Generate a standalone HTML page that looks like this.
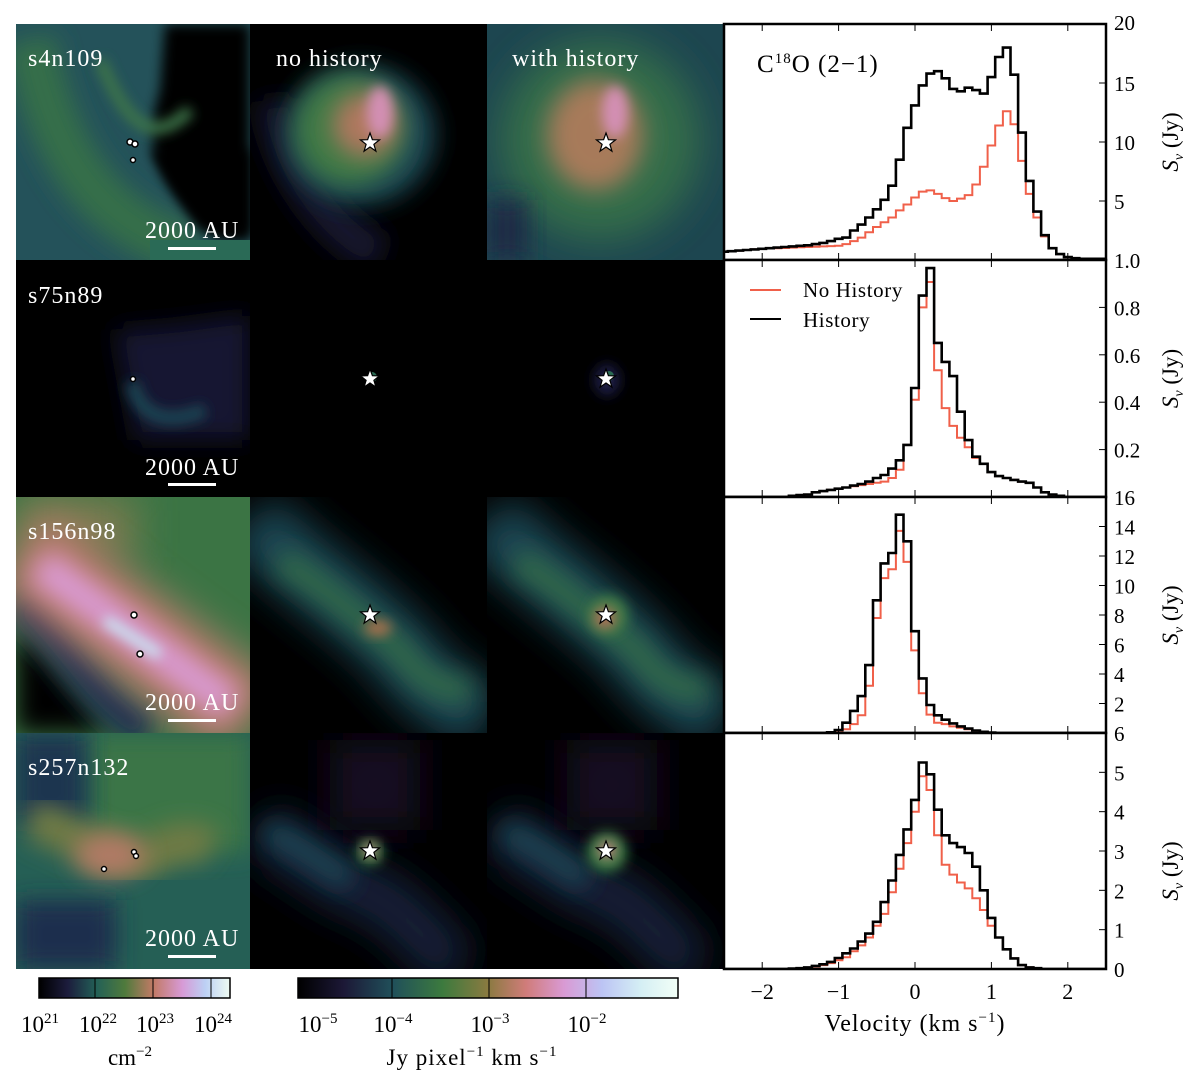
<!DOCTYPE html>
<html><head><meta charset="utf-8"><style>
html,body{margin:0;padding:0;background:#fff;}
svg{display:block;font-family:"Liberation Serif",serif;}
</style></head><body>
<svg id="fig" width="1200" height="1079" viewBox="0 0 1200 1079" xmlns="http://www.w3.org/2000/svg">
<defs>
<filter id="b6" x="-50%" y="-50%" width="200%" height="200%"><feGaussianBlur stdDeviation="6"/></filter>
<filter id="b12" x="-50%" y="-50%" width="200%" height="200%"><feGaussianBlur stdDeviation="12"/></filter>
<filter id="b20" x="-50%" y="-50%" width="200%" height="200%"><feGaussianBlur stdDeviation="20"/></filter>
<linearGradient id="cbL" x1="0" x2="1"><stop offset="0" stop-color="#000"/><stop offset="0.15" stop-color="#1c1c3c"/><stop offset="0.3" stop-color="#236057"/><stop offset="0.45" stop-color="#4f7a3c"/><stop offset="0.6" stop-color="#c27a66"/><stop offset="0.75" stop-color="#d79ad6"/><stop offset="0.87" stop-color="#bcd0f4"/><stop offset="1" stop-color="#eefbf2"/></linearGradient>
<linearGradient id="cbR" x1="0" x2="1"><stop offset="0" stop-color="#000"/><stop offset="0.12" stop-color="#1c1836"/><stop offset="0.25" stop-color="#20505a"/><stop offset="0.38" stop-color="#3c7a3e"/><stop offset="0.5" stop-color="#8a7a40"/><stop offset="0.6" stop-color="#d07c7a"/><stop offset="0.7" stop-color="#d99ad4"/><stop offset="0.8" stop-color="#bcc4f4"/><stop offset="0.9" stop-color="#d4eef4"/><stop offset="1" stop-color="#f2fff6"/></linearGradient>
<clipPath id="c11"><rect x="16" y="24" width="234" height="236"/></clipPath>
<clipPath id="c12"><rect x="250" y="24" width="237" height="236"/></clipPath>
<clipPath id="c13"><rect x="487" y="24" width="237" height="236"/></clipPath>
<clipPath id="c21"><rect x="16" y="260" width="234" height="237"/></clipPath>
<clipPath id="c22"><rect x="250" y="260" width="237" height="237"/></clipPath>
<clipPath id="c23"><rect x="487" y="260" width="237" height="237"/></clipPath>
<clipPath id="c31"><rect x="16" y="497" width="234" height="236"/></clipPath>
<clipPath id="c32"><rect x="250" y="497" width="237" height="236"/></clipPath>
<clipPath id="c33"><rect x="487" y="497" width="237" height="236"/></clipPath>
<clipPath id="c41"><rect x="16" y="733" width="234" height="236"/></clipPath>
<clipPath id="c42"><rect x="250" y="733" width="237" height="236"/></clipPath>
<clipPath id="c43"><rect x="487" y="733" width="237" height="236"/></clipPath>
<clipPath id="cs1"><rect x="724" y="24" width="382" height="236"/></clipPath>
<clipPath id="cs2"><rect x="724" y="260" width="382" height="237"/></clipPath>
<clipPath id="cs3"><rect x="724" y="497" width="382" height="236"/></clipPath>
<clipPath id="cs4"><rect x="724" y="733" width="382" height="236"/></clipPath>
<path id="star" d="M0,-10 L2.4,-3.3 9.5,-3.1 3.9,1.3 5.9,8.1 0,4 -5.9,8.1 -3.9,1.3 -9.5,-3.1 -2.4,-3.3Z"/>
</defs>

<rect x="16" y="24" width="708" height="945" fill="#000"/>

<!-- Row 1 -->
<g clip-path="url(#c11)">
<rect x="16" y="24" width="234" height="236" fill="#24525a"/>
<path d="M30,40 C50,140 90,220 190,250" stroke="#356e48" stroke-width="50" fill="none" filter="url(#b12)"/>
<path d="M165,24 L250,24 250,240 220,240 C160,190 140,150 160,90Z" fill="#000" filter="url(#b6)"/>
<path d="M150,150 L250,150 250,235 200,230Z" fill="#000" filter="url(#b6)"/>
<path d="M100,60 C125,120 150,150 190,110" stroke="#3d7448" stroke-width="12" fill="none" filter="url(#b6)"/>
<rect x="150" y="240" width="100" height="20" fill="#2a6a56"/>
<circle cx="130" cy="142" r="3" fill="#fff" stroke="#000" stroke-width="1.5"/>
<circle cx="135" cy="144" r="3" fill="#fff" stroke="#000" stroke-width="1.5"/>
<circle cx="133" cy="160" r="2.5" fill="#fff" stroke="#000" stroke-width="1.5"/>
</g>
<g clip-path="url(#c12)">
<rect x="250" y="24" width="237" height="236" fill="#000"/>
<path d="M275,100 C285,170 330,230 380,255" stroke="#18162e" stroke-width="40" fill="none" filter="url(#b12)"/>
<ellipse cx="360" cy="135" rx="75" ry="70" fill="#1f4a54" filter="url(#b12)"/>
<ellipse cx="350" cy="130" rx="55" ry="55" fill="#3f7a44" filter="url(#b12)"/>
<ellipse cx="365" cy="125" rx="32" ry="32" fill="#b0785e" filter="url(#b12)"/>
<ellipse cx="380" cy="112" rx="13" ry="26" fill="#d38fb4" filter="url(#b6)"/>
</g>
<g clip-path="url(#c13)">
<rect x="487" y="24" width="237" height="236" fill="#1d4650"/>
<ellipse cx="600" cy="140" rx="100" ry="100" fill="#356e4a" filter="url(#b20)"/>
<ellipse cx="595" cy="135" rx="48" ry="55" fill="#a77a5a" filter="url(#b12)"/>
<ellipse cx="615" cy="112" rx="13" ry="26" fill="#d38fb4" filter="url(#b6)"/>
<rect x="487" y="200" width="40" height="60" fill="#1a2a44" filter="url(#b12)"/>
</g>

<!-- Row 2 -->
<g clip-path="url(#c21)">
<rect x="16" y="260" width="234" height="237" fill="#000"/>
<path d="M115,330 L175,325 250,315 250,440 135,440Z" fill="#141632" filter="url(#b12)"/>
<path d="M132,382 C140,420 170,425 205,410" stroke="#1c4452" stroke-width="14" fill="none" filter="url(#b6)"/>
<circle cx="133" cy="379" r="2.5" fill="#fff" stroke="#000" stroke-width="1.5"/>
</g>
<g clip-path="url(#c22)">
<rect x="250" y="260" width="237" height="237" fill="#000"/>
<circle cx="372" cy="377" r="5" fill="#2a6a52"/>
</g>
<g clip-path="url(#c23)">
<rect x="487" y="260" width="237" height="237" fill="#000"/>
<ellipse cx="607" cy="380" rx="13" ry="16" fill="#1d1e44" filter="url(#b6)"/>
<circle cx="609" cy="376" r="5" fill="#2a6a52"/>
</g>

<!-- Row 3 -->
<g clip-path="url(#c31)">
<rect x="16" y="497" width="234" height="236" fill="#3b7444"/>
<rect x="16" y="497" width="120" height="60" fill="#7a7a50" filter="url(#b20)"/>
<path d="M16,630 C40,640 80,690 110,733 L16,733Z" fill="#000" filter="url(#b12)"/>
<path d="M16,600 C60,630 90,700 150,733" stroke="#1a3350" stroke-width="40" fill="none" filter="url(#b12)"/>
<path d="M20,550 L250,720" stroke="#c07a6e" stroke-width="90" fill="none" filter="url(#b20)"/>
<path d="M40,565 L230,705" stroke="#d99ad2" stroke-width="34" fill="none" filter="url(#b12)"/>
<path d="M105,620 L160,655" stroke="#c8e8f4" stroke-width="10" fill="none" filter="url(#b6)"/>
<circle cx="134" cy="615" r="3" fill="#fff" stroke="#000" stroke-width="1.5"/>
<circle cx="140" cy="654" r="3" fill="#fff" stroke="#000" stroke-width="1.5"/>
</g>
<g clip-path="url(#c32)">
<rect x="250" y="497" width="237" height="236" fill="#000"/>
<path d="M250,520 C300,570 350,600 400,650 C430,690 450,700 487,720" stroke="#1d4a56" stroke-width="70" fill="none" filter="url(#b20)"/>
<path d="M280,560 C330,590 360,620 400,650 C420,680 440,690 470,690" stroke="#316a48" stroke-width="25" fill="none" filter="url(#b12)"/>
<ellipse cx="378" cy="628" rx="14" ry="8" fill="#a8704e" filter="url(#b6)"/>
</g>
<g clip-path="url(#c33)">
<rect x="487" y="497" width="237" height="236" fill="#000"/>
<path d="M487,520 C537,570 587,600 637,650 C667,690 687,700 724,720" stroke="#1d4a56" stroke-width="70" fill="none" filter="url(#b20)"/>
<path d="M517,560 C567,590 597,620 637,650 C657,680 677,690 707,690" stroke="#316a48" stroke-width="25" fill="none" filter="url(#b12)"/>
<circle cx="608" cy="615" r="20" fill="#3d7a44" filter="url(#b6)"/>
<circle cx="605" cy="618" r="11" fill="#b0705a" filter="url(#b6)"/>
</g>

<!-- Row 4 -->
<g clip-path="url(#c41)">
<rect x="16" y="733" width="234" height="236" fill="#255f55"/>
<rect x="90" y="733" width="160" height="120" fill="#3b7446" filter="url(#b12)"/>
<rect x="16" y="733" width="70" height="90" fill="#1c3650" filter="url(#b12)"/>
<rect x="16" y="900" width="100" height="69" fill="#1c2e4e" filter="url(#b12)"/>
<path d="M30,820 C70,830 100,860 140,860 C160,855 180,830 210,850" stroke="#6f7a44" stroke-width="40" fill="none" filter="url(#b12)"/>
<ellipse cx="110" cy="855" rx="35" ry="22" fill="#b27a66" filter="url(#b12)"/>
<circle cx="104" cy="869" r="2.5" fill="#fff" stroke="#000" stroke-width="1.5"/>
<circle cx="134" cy="852" r="2.5" fill="#fff" stroke="#000" stroke-width="1.5"/>
<circle cx="136" cy="856" r="2.5" fill="#fff" stroke="#000" stroke-width="1.5"/>
</g>
<g clip-path="url(#c42)">
<rect x="250" y="733" width="237" height="236" fill="#000"/>
<path d="M260,830 C300,850 330,880 360,890 C400,900 430,950 460,969" stroke="#18203a" stroke-width="55" fill="none" filter="url(#b20)"/>
<rect x="330" y="740" width="90" height="90" fill="#120f22" filter="url(#b20)"/>
<path d="M265,830 C300,845 330,870 350,880" stroke="#1e4a56" stroke-width="22" fill="none" filter="url(#b12)"/>
<circle cx="370" cy="852" r="13" fill="#3a7a44" filter="url(#b6)"/>
<circle cx="370" cy="850" r="7" fill="#c07a7a" filter="url(#b6)"/>
</g>
<g clip-path="url(#c43)">
<rect x="487" y="733" width="237" height="236" fill="#000"/>
<path d="M497,830 C537,850 567,880 597,890 C637,900 667,950 697,969" stroke="#18203a" stroke-width="55" fill="none" filter="url(#b20)"/>
<rect x="567" y="740" width="90" height="90" fill="#120f22" filter="url(#b20)"/>
<path d="M502,830 C537,845 567,870 587,880" stroke="#1e4a56" stroke-width="22" fill="none" filter="url(#b12)"/>
<circle cx="607" cy="852" r="20" fill="#3a7a44" filter="url(#b6)"/>
<circle cx="607" cy="850" r="9" fill="#c07a7a" filter="url(#b6)"/>
</g>

<!-- stars -->
<g fill="#fff" stroke="#000" stroke-width="1.2">
<use href="#star" x="370" y="143"/><use href="#star" x="606" y="143"/>
<use href="#star" x="370" y="379"/><use href="#star" x="606" y="379"/>
<use href="#star" x="370" y="615"/><use href="#star" x="606" y="615"/>
<use href="#star" x="370" y="851"/><use href="#star" x="606" y="851"/>
</g>

<!-- labels -->
<g fill="#fff" font-size="24" letter-spacing="1">
<text x="28" y="66">s4n109</text>
<text x="276" y="66">no history</text>
<text x="512" y="66">with history</text>
<text x="28" y="303">s75n89</text>
<text x="28" y="539">s156n98</text>
<text x="28" y="775">s257n132</text>
</g>
<g fill="#fff" font-size="24" letter-spacing="1">
<text x="145" y="238">2000 AU</text><rect x="168" y="247" width="48" height="3"/>
<text x="145" y="475">2000 AU</text><rect x="168" y="483" width="48" height="3"/>
<text x="145" y="710">2000 AU</text><rect x="168" y="719" width="48" height="3"/>
<text x="145" y="946">2000 AU</text><rect x="168" y="955" width="48" height="3"/>
</g>

<!-- spectra -->
<g id="spectra"></g>

<!-- colorbars -->
<rect x="39" y="978" width="191" height="20" fill="url(#cbL)" stroke="#000" stroke-width="1.5"/>
<g stroke="#000" stroke-width="1"><line x1="95" y1="978" x2="95" y2="998"/><line x1="153" y1="978" x2="153" y2="998"/><line x1="211" y1="978" x2="211" y2="998"/></g>
<g font-size="23" text-anchor="middle">
<text x="40" y="1032">10<tspan dy="-9" font-size="15">21</tspan></text>
<text x="98" y="1032">10<tspan dy="-9" font-size="15">22</tspan></text>
<text x="155" y="1032">10<tspan dy="-9" font-size="15">23</tspan></text>
<text x="213" y="1032">10<tspan dy="-9" font-size="15">24</tspan></text>
<text x="130" y="1065">cm<tspan dy="-9" font-size="15">−2</tspan></text>
</g>
<rect x="298" y="978" width="380" height="20" fill="url(#cbR)" stroke="#000" stroke-width="1.5"/>
<g stroke="#000" stroke-width="1"><line x1="392" y1="978" x2="392" y2="998"/><line x1="489" y1="978" x2="489" y2="998"/><line x1="586" y1="978" x2="586" y2="998"/></g>
<g font-size="23" text-anchor="middle">
<text x="318" y="1032">10<tspan dy="-9" font-size="15">−5</tspan></text>
<text x="393" y="1032">10<tspan dy="-9" font-size="15">−4</tspan></text>
<text x="490" y="1032">10<tspan dy="-9" font-size="15">−3</tspan></text>
<text x="587" y="1032">10<tspan dy="-9" font-size="15">−2</tspan></text>
<text x="472" y="1065" letter-spacing="1">Jy pixel<tspan dy="-9" font-size="15">−1</tspan><tspan dy="9"> km s</tspan><tspan dy="-9" font-size="15">−1</tspan></text>
</g>
</svg>
<script>
const velocityCenters = Array.from({length:51}, (_, i) => -2.5 + 0.1 * i);
const p1Black = [0.7,0.75,0.8,0.85,0.9,0.95,1.0,1.05,1.1,1.15,1.2,1.25,1.35,1.45,1.6,1.8,1.9,2.5,3.0,3.6,4.3,5.1,6.3,8.5,11.2,13.1,14.8,15.8,16.0,15.4,14.5,14.3,14.6,14.4,14.1,15.5,17.2,18.0,15.7,10.8,6.7,4.1,2.1,1.0,0.5,0.25,0.15,0.1,0.1,0.1,0.1];
const p1Red = [0.7,0.75,0.8,0.85,0.9,0.95,0.98,1.0,1.02,1.05,1.08,1.1,1.12,1.15,1.18,1.2,1.35,1.6,1.9,2.35,2.8,3.2,3.6,4.2,4.7,5.3,5.8,5.9,5.6,5.25,5.0,5.2,5.5,6.4,7.9,9.7,11.4,12.6,11.5,8.4,5.6,3.6,2.0,1.0,0.5,0.25,0.15,0.1,0.1,0.1,0.1];
const p2Black = [0,0,0,0,0,0,0,0,0,0.005,0.008,0.01,0.02,0.025,0.03,0.035,0.04,0.048,0.055,0.065,0.08,0.093,0.12,0.155,0.22,0.46,0.85,0.966,0.65,0.57,0.51,0.36,0.24,0.17,0.14,0.105,0.088,0.08,0.072,0.065,0.06,0.04,0.02,0.01,0.005,0,0,0,0,0,0];
const p2Red = [0,0,0,0,0,0,0,0,0,0.005,0.008,0.01,0.02,0.025,0.03,0.035,0.04,0.045,0.05,0.055,0.06,0.065,0.08,0.115,0.22,0.41,0.80,0.907,0.535,0.375,0.30,0.25,0.21,0.165,0.14,0.105,0.088,0.08,0.072,0.065,0.06,0.04,0.02,0.01,0.005,0,0,0,0,0,0];
const p3Black = [0,0,0,0,0,0,0,0,0,0,0,0,0,0,0.05,0.2,0.7,1.5,2.5,4.6,9.0,11.5,12.2,14.8,13.0,6.9,3.7,1.9,1.2,0.9,0.65,0.45,0.3,0.17,0.08,0.03,0,0,0,0,0,0,0,0,0,0,0,0,0,0,0];
const p3Red = [0,0,0,0,0,0,0,0,0,0,0,0,0,0,0,0.05,0.25,0.6,1.2,3.2,7.8,10.5,11.1,13.7,11.6,5.6,2.7,1.25,0.7,0.6,0.45,0.35,0.25,0.15,0.07,0.03,0,0,0,0,0,0,0,0,0,0,0,0,0,0,0];
const p4Black = [0,0,0,0,0,0,0,0,0,0.01,0.02,0.04,0.08,0.12,0.18,0.28,0.4,0.52,0.7,0.9,1.2,1.7,2.25,2.9,3.55,4.3,5.25,4.95,4.05,3.4,3.2,3.1,2.95,2.6,2.0,1.3,0.8,0.5,0.27,0.1,0.04,0.02,0,0,0,0,0,0,0,0,0];
const p4Red = [0,0,0,0,0,0,0,0,0,0.01,0.015,0.03,0.06,0.1,0.15,0.22,0.3,0.45,0.6,0.8,1.1,1.4,1.95,2.55,3.2,4.0,4.9,4.55,3.4,2.65,2.4,2.2,2.05,1.8,1.5,1.1,0.8,0.5,0.27,0.1,0.04,0.02,0,0,0,0,0,0,0,0,0];
const velTicks = [-2,-1,0,1,2];
const p1Ticks = [5,10,15]; const p2Ticks = [0.2,0.4,0.6,0.8]; const p3Ticks = [2,4,6,8,10,12,14]; const p4Ticks = [1,2,3,4,5];
const p1Labels = ["20","15","10","5"]; const p1LabelVals = [20,15,10,5];
const p2Labels = ["1.0","0.8","0.6","0.4","0.2"]; const p2LabelVals = [1.0,0.8,0.6,0.4,0.2];
const p3Labels = ["16","14","12","10","8","6","4","2"]; const p3LabelVals = [16,14,12,10,8,6,4,2];
const p4Labels = ["6","5","4","3","2","1","0"]; const p4LabelVals = [6,5,4,3,2,1,0];

const NS = "http://www.w3.org/2000/svg";
const root = document.getElementById('spectra');
const X0 = 724, X1 = 1106, VMIN = -2.5, VMAX = 2.5;
const xs = v => X0 + (v - VMIN) / (VMAX - VMIN) * (X1 - X0);
function mk(tag, attrs, parent) { const e = document.createElementNS(NS, tag); for (const k in attrs) e.setAttribute(k, attrs[k]); parent.appendChild(e); return e; }
const panels = [
 {top:24, bot:260, ymax:20, black:p1Black, red:p1Red, ticks:p1Ticks, labels:p1Labels, lv:p1LabelVals, clip:'cs1', name:'c18o-s4n109'},
 {top:260, bot:497, ymax:1.0, black:p2Black, red:p2Red, ticks:p2Ticks, labels:p2Labels, lv:p2LabelVals, clip:'cs2', name:'c18o-s75n89'},
 {top:497, bot:733, ymax:16, black:p3Black, red:p3Red, ticks:p3Ticks, labels:p3Labels, lv:p3LabelVals, clip:'cs3', name:'c18o-s156n98'},
 {top:733, bot:969, ymax:6, black:p4Black, red:p4Red, ticks:p4Ticks, labels:p4Labels, lv:p4LabelVals, clip:'cs4', name:'c18o-s257n132'}
];
panels.forEach((p, idx) => {
  const g = mk('g', {}, root);
  
  
  const ys = val => p.bot - val / p.ymax * (p.bot - p.top);
  mk('rect', {x:X0, y:p.top, width:X1-X0, height:p.bot-p.top, fill:'#fff'}, g);
  const series = [[p.red, '#f0604a', 2, 'no-history-line'], [p.black, '#000', 2.6, 'history-line']];
  series.forEach(([arr, col, w, nm]) => {
    let d = '';
    arr.forEach((val, i) => {
      const v = velocityCenters[i];
      const xa = xs(v - 0.05), xb = xs(v + 0.05), y = ys(val);
      d += (i === 0 ? 'M' : 'L') + xa.toFixed(1) + ',' + y.toFixed(1) + 'L' + xb.toFixed(1) + ',' + y.toFixed(1);
    });
    const path = mk('path', {d:d, fill:'none', stroke:col, 'stroke-width':w, 'clip-path':'url(#'+p.clip+')'}, g);
    
    
  });
  velTicks.forEach(t => {
    const x = xs(t);
    mk('line', {x1:x, y1:p.bot, x2:x, y2:p.bot-7, stroke:'#000', 'stroke-width':1}, g);
    mk('line', {x1:x, y1:p.top, x2:x, y2:p.top+7, stroke:'#000', 'stroke-width':1}, g);
  });
  p.ticks.forEach(t => {
    const y = ys(t);
    mk('line', {x1:X1, y1:y, x2:X1-7, y2:y, stroke:'#000', 'stroke-width':1}, g);
  });
  mk('rect', {x:X0, y:p.top, width:X1-X0, height:p.bot-p.top, fill:'none', stroke:'#000', 'stroke-width':2.5}, g);
  p.labels.forEach((lab, i) => {
    let y = ys(p.lv[i]) + 8;
    if (p.lv[i] === p.ymax) y = p.top + (idx === 0 ? 6 : 8);
    const t = mk('text', {x:1114, y:y, 'font-size':21}, g);
    t.textContent = lab;
    
    
  });
  const cy = (p.top + p.bot) / 2;
  const tt = mk('text', {x:0, y:0, 'font-size':23, 'text-anchor':'middle', transform:'translate(1178,' + (cy + (idx===3?20:0)) + ') rotate(-90)'}, g);
  tt.innerHTML = '<tspan font-style="italic">S</tspan><tspan font-style="italic" font-size="14" dy="5">ν</tspan><tspan dy="-5"> (Jy)</tspan>';
  
  
});
const ttl = mk('text', {x:757, y:72, 'font-size':25, 'letter-spacing':1}, root);
ttl.innerHTML = 'C<tspan dy="-9" font-size="15">18</tspan><tspan dy="9">O (2−1)</tspan>';


const leg = mk('g', {}, root);


mk('line', {x1:750, y1:290, x2:781, y2:290, stroke:'#f0604a', 'stroke-width':2}, leg);
mk('line', {x1:750, y1:319, x2:781, y2:319, stroke:'#000', 'stroke-width':2}, leg);
const l1 = mk('text', {x:803, y:297, 'font-size':21, 'letter-spacing':0.6}, leg); l1.textContent = 'No History';


const l2 = mk('text', {x:803, y:327, 'font-size':21, 'letter-spacing':0.6}, leg); l2.textContent = 'History';


velTicks.forEach(t => {
  const tx = mk('text', {x:xs(t), y:999, 'font-size':22, 'text-anchor':'middle'}, root);
  tx.textContent = t < 0 ? '−' + Math.abs(t) : String(t);
  
  
});
const xt = mk('text', {x:915, y:1031, 'font-size':24, 'text-anchor':'middle', 'letter-spacing':1}, root);
xt.innerHTML = 'Velocity (km s<tspan dy="-9" font-size="15">−1</tspan><tspan dy="9">)</tspan>';


</script>
</body></html>
